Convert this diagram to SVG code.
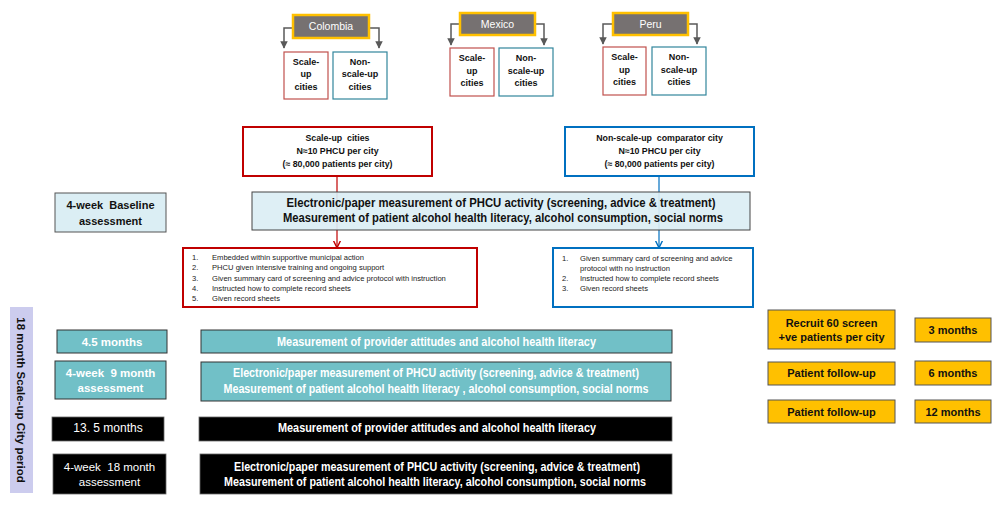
<svg xmlns="http://www.w3.org/2000/svg" width="1000" height="508" viewBox="0 0 1000 508" xml:space="preserve">
<defs>
<style>
text{font-family:"Liberation Sans",Arial,sans-serif;text-anchor:middle;white-space:pre}
.b{font-weight:bold}
.ctry{fill:#767171;stroke:#ffc000;stroke-width:2.5}
.ctxt{fill:#fff;font-size:10.5px}
.su{fill:#fff;stroke:#c0504d;stroke-width:1.2}
.ns{fill:#fff;stroke:#31859c;stroke-width:1.2}
.sm{font-size:9px;font-weight:bold;fill:#111}
.hd{font-size:8.8px;font-weight:bold;fill:#111}
.lst{font-size:7.6px;fill:#222;text-anchor:start}
.teal{fill:#71c0c7;stroke:#333;stroke-width:1}
.blk{fill:#000;stroke:#666;stroke-width:0.8}
.wt{fill:#fff}
.org{fill:#ffc000;stroke:#555;stroke-width:1}
.ot{font-size:11px;font-weight:bold;fill:#111}
.lb{fill:#dbeef4;stroke:#555;stroke-width:1}
</style>
<marker id="ag" viewBox="0 0 10 10" refX="9" refY="5" markerWidth="5" markerHeight="5" orient="auto"><path d="M0,0 L10,5 L0,10 z" fill="#595959"/></marker>
<marker id="ar" viewBox="0 0 10 10" refX="9" refY="5" markerWidth="6" markerHeight="6" orient="auto"><path d="M0,0 L10,5 L0,10" fill="none" stroke="#c00000" stroke-width="2"/></marker>
<marker id="ab" viewBox="0 0 10 10" refX="9" refY="5" markerWidth="6" markerHeight="6" orient="auto"><path d="M0,0 L10,5 L0,10" fill="none" stroke="#0070c0" stroke-width="2"/></marker>
</defs>
<rect width="1000" height="508" fill="#fff"/>

<g id="connectors" fill="none">
<path d="M293,28 H284 V48" stroke="#595959" stroke-width="1.5" marker-end="url(#ag)"/>
<path d="M369,28 H379 V48" stroke="#595959" stroke-width="1.5" marker-end="url(#ag)"/>
<path d="M460,24 H451 V45" stroke="#595959" stroke-width="1.5" marker-end="url(#ag)"/>
<path d="M535,24 H544 V45" stroke="#595959" stroke-width="1.5" marker-end="url(#ag)"/>
<path d="M613,24 H603 V44" stroke="#595959" stroke-width="1.5" marker-end="url(#ag)"/>
<path d="M688,24 H697 V44" stroke="#595959" stroke-width="1.5" marker-end="url(#ag)"/>
<path d="M337,176 V247" stroke="#c00000" stroke-width="1.2" marker-end="url(#ar)"/>
<path d="M659,176 V247" stroke="#0070c0" stroke-width="1.2" marker-end="url(#ab)"/>
</g>

<g id="colombia">
<rect class="ctry" x="293" y="15" width="76" height="23"/>
<text class="ctxt" x="331" y="30">Colombia</text>
</g>
<g id="colombia-su">
<rect class="su" x="284" y="52" width="44" height="47"/>
<text class="sm" x="306" y="65">Scale-</text><text class="sm" x="306" y="77">up</text><text class="sm" x="306" y="90">cities</text>
</g>
<g id="colombia-ns">
<rect class="ns" x="333" y="52" width="54" height="47"/>
<text class="sm" x="360" y="65">Non-</text><text class="sm" x="360" y="77">scale-up</text><text class="sm" x="360" y="90">cities</text>
</g>

<g id="mexico">
<rect class="ctry" x="460" y="13" width="75" height="22"/>
<text class="ctxt" x="497.5" y="28">Mexico</text>
</g>
<g id="mexico-su">
<rect class="su" x="450" y="48" width="44" height="48"/>
<text class="sm" x="472" y="61">Scale-</text><text class="sm" x="472" y="74">up</text><text class="sm" x="472" y="86">cities</text>
</g>
<g id="mexico-ns">
<rect class="ns" x="499" y="48" width="54" height="48"/>
<text class="sm" x="526" y="61">Non-</text><text class="sm" x="526" y="74">scale-up</text><text class="sm" x="526" y="86">cities</text>
</g>

<g id="peru">
<rect class="ctry" x="613" y="13" width="75" height="22"/>
<text class="ctxt" x="650.5" y="28">Peru</text>
</g>
<g id="peru-su">
<rect class="su" x="603" y="47" width="43" height="48"/>
<text class="sm" x="624.5" y="60">Scale-</text><text class="sm" x="624.5" y="73">up</text><text class="sm" x="624.5" y="85">cities</text>
</g>
<g id="peru-ns">
<rect class="ns" x="652" y="47" width="54" height="48"/>
<text class="sm" x="679" y="60">Non-</text><text class="sm" x="679" y="73">scale-up</text><text class="sm" x="679" y="85">cities</text>
</g>

<g id="scaleup-cities">
<rect x="243" y="127" width="189" height="49" fill="#fff" stroke="#c00000" stroke-width="2"/>
<text class="hd" x="337.5" y="141">Scale-up  cities</text>
<text class="hd" x="337.5" y="154">N≈10 PHCU per city</text>
<text class="hd" x="337.5" y="167">(≈ 80,000 patients per city)</text>
</g>
<g id="comparator-city">
<rect x="565" y="127" width="189" height="49" fill="#fff" stroke="#0070c0" stroke-width="2"/>
<text class="hd" x="659.5" y="141">Non-scale-up  comparator city</text>
<text class="hd" x="659.5" y="154">N≈10 PHCU per city</text>
<text class="hd" x="659.5" y="167">(≈ 80,000 patients per city)</text>
</g>

<g id="baseline-label">
<rect class="lb" x="55" y="193" width="111" height="39"/>
<text class="b" x="110.5" y="209" font-size="11" fill="#111">4-week  Baseline</text>
<text class="b" x="110.5" y="225" font-size="11" fill="#111">assessment</text>
</g>
<g id="baseline-measure">
<rect x="252" y="192" width="498" height="38" fill="#dbeef4" fill-opacity="0.92" stroke="#444" stroke-width="1"/>
<text class="b" x="501" y="207" font-size="12" fill="#111" textLength="429" lengthAdjust="spacingAndGlyphs">Electronic/paper measurement of PHCU activity (screening, advice &amp; treatment)</text>
<text class="b" x="503" y="222" font-size="12" fill="#111" textLength="440" lengthAdjust="spacingAndGlyphs">Measurement of patient alcohol health literacy, alcohol consumption, social norms</text>
</g>

<g id="scaleup-list">
<rect x="183" y="248" width="294" height="59" fill="#fff" stroke="#c00000" stroke-width="2"/>
<text class="lst" x="192" y="260">1.</text><text class="lst" x="212" y="260">Embedded within supportive municipal action</text>
<text class="lst" x="192" y="270">2.</text><text class="lst" x="212" y="270">PHCU given intensive training and ongoing support</text>
<text class="lst" x="192" y="281">3.</text><text class="lst" x="212" y="281">Given summary card of screening and advice protocol with instruction</text>
<text class="lst" x="192" y="291">4.</text><text class="lst" x="212" y="291">Instructed how to complete record sheets</text>
<text class="lst" x="192" y="301">5.</text><text class="lst" x="212" y="301">Given record sheets</text>
</g>
<g id="comparator-list">
<rect x="553" y="248" width="200" height="59" fill="#fff" stroke="#0070c0" stroke-width="2"/>
<text class="lst" x="562" y="261">1.</text><text class="lst" x="580" y="261">Given summary card of screening and advice</text>
<text class="lst" x="580" y="271">protocol with no instruction</text>
<text class="lst" x="562" y="281">2.</text><text class="lst" x="580" y="281">Instructed how to complete record sheets</text>
<text class="lst" x="562" y="291">3.</text><text class="lst" x="580" y="291">Given record sheets</text>
</g>

<g id="period-bar">
<rect x="10" y="307" width="23" height="186" fill="#ccccee"/>
<text class="b" font-size="11.5" fill="#111" transform="translate(17,400) rotate(90)">18 month Scale-up City period</text>
</g>

<g id="m45-label">
<rect class="teal" x="57" y="330" width="110" height="23"/>
<text class="b wt" x="112" y="346" font-size="11.5">4.5 months</text>
</g>
<g id="m45-measure">
<rect class="teal" x="201" y="330" width="471" height="23"/>
<text class="b wt" x="436.5" y="346" font-size="12" textLength="319" lengthAdjust="spacingAndGlyphs">Measurement of provider attitudes and alcohol health literacy</text>
</g>
<g id="m9-label">
<rect class="teal" x="55" y="361" width="111" height="38"/>
<text class="b wt" x="110.5" y="377" font-size="11.5">4-week  9 month</text>
<text class="b wt" x="110.5" y="392" font-size="11.5">assessment</text>
</g>
<g id="m9-measure">
<rect class="teal" x="201" y="362" width="470" height="39"/>
<text class="b wt" x="436" y="377" font-size="12" textLength="406" lengthAdjust="spacingAndGlyphs">Electronic/paper measurement of PHCU activity (screening, advice &amp; treatment)</text>
<text class="b wt" x="436" y="393" font-size="12" textLength="425" lengthAdjust="spacingAndGlyphs">Measurement of patient alcohol health literacy , alcohol consumption, social norms</text>
</g>
<g id="m135-label">
<rect class="blk" x="52" y="417" width="112" height="24"/>
<text class="wt" x="108" y="432" font-size="12">13. 5 months</text>
</g>
<g id="m135-measure">
<rect class="blk" x="199" y="417" width="473" height="24"/>
<text class="b wt" x="437" y="432" font-size="12" textLength="318" lengthAdjust="spacingAndGlyphs">Measurement of provider attitudes and alcohol health literacy</text>
</g>
<g id="m18-label">
<rect class="blk" x="53" y="454" width="113" height="40"/>
<text class="wt" x="109.5" y="471" font-size="11.5">4-week  18 month</text>
<text class="wt" x="109.5" y="486" font-size="11.5">assessment</text>
</g>
<g id="m18-measure">
<rect class="blk" x="200" y="454" width="472" height="40"/>
<text class="b wt" x="437" y="471" font-size="12" textLength="406" lengthAdjust="spacingAndGlyphs">Electronic/paper measurement of PHCU activity (screening, advice &amp; treatment)</text>
<text class="b wt" x="435" y="486" font-size="12" textLength="422" lengthAdjust="spacingAndGlyphs">Measurement of patient alcohol health literacy, alcohol consumption, social norms</text>
</g>

<g id="recruit">
<rect class="org" x="768" y="310" width="127" height="39"/>
<text class="ot" x="831.5" y="327">Recruit 60 screen</text>
<text class="ot" x="831.5" y="341">+ve patients per city</text>
</g>
<g id="m3">
<rect class="org" x="915" y="318" width="76" height="24"/>
<text class="ot" x="953" y="334">3 months</text>
</g>
<g id="followup6">
<rect class="org" x="768" y="362" width="127" height="23"/>
<text class="ot" x="831.5" y="377">Patient follow-up</text>
</g>
<g id="m6">
<rect class="org" x="915" y="361" width="76" height="24"/>
<text class="ot" x="953" y="377">6 months</text>
</g>
<g id="followup12">
<rect class="org" x="768" y="400" width="127" height="23"/>
<text class="ot" x="831.5" y="416">Patient follow-up</text>
</g>
<g id="m12">
<rect class="org" x="915" y="400" width="76" height="23"/>
<text class="ot" x="953" y="416">12 months</text>
</g>
</svg>
